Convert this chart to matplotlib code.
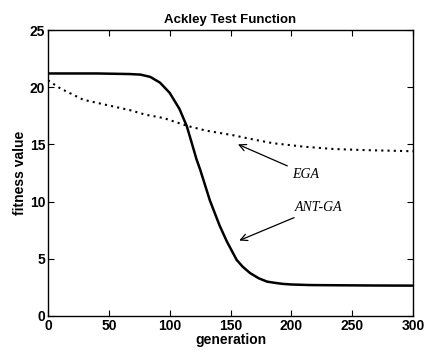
import numpy as np
import matplotlib
matplotlib.use("Agg")
import matplotlib.pyplot as plt

# values
ant_gen = [0, 40, 67, 76, 84, 92, 100, 108, 114, 119, 122, 125, 133, 141, 147, 150, 155, 160, 166, 173, 180, 186, 193, 200, 215, 240, 270, 300]
ant_fit = [21.2, 21.2, 21.15, 21.1, 20.9, 20.4, 19.5, 18.1, 16.6, 14.8, 13.7, 12.8, 10.1, 7.9, 6.5, 5.9, 4.9, 4.3, 3.75, 3.3, 3.0, 2.9, 2.8, 2.75, 2.7, 2.68, 2.66, 2.65]

ega_gen = [0, 10, 29, 50, 67, 80, 95, 115, 130, 152, 170, 185, 210, 234, 260, 280, 300]
ega_fit = [20.6, 19.9, 18.9, 18.4, 18.0, 17.6, 17.3, 16.6, 16.2, 15.8, 15.4, 15.1, 14.8, 14.6, 14.5, 14.45, 14.4]

xticks = [0, 50, 100, 150, 200, 250, 300]
yticks = [0, 5, 10, 15, 20, 25]

plt.rcParams['font.family'] = ['Liberation Sans', 'DejaVu Sans']

fig = plt.figure(figsize=(4.25, 3.53), dpi=100)
ax = fig.add_axes([0.113, 0.105, 0.859, 0.81])

ax.plot(ant_gen, ant_fit, color='black', lw=1.8, solid_joinstyle='round')
ax.plot(ega_gen, ega_fit, color='black', lw=1.5, linestyle=(0, (1, 2)))

ax.set_xlim(0, 300)
ax.set_ylim(0, 25)
ax.set_xticks(xticks)
ax.set_yticks(yticks)
ax.tick_params(direction='in', top=True, right=True, length=4, labelsize=10, pad=2)
for lab in ax.get_xticklabels() + ax.get_yticklabels():
    lab.set_fontweight('bold')
for s in ax.spines.values():
    s.set_linewidth(1.0)

ax.set_title('Ackley Test Function', fontsize=9.5, fontweight='bold', pad=5)
ax.set_xlabel('generation', fontsize=10, fontweight='bold', labelpad=0)
ax.set_ylabel('fitness value', fontsize=10, fontweight='bold', labelpad=2)

arrow = dict(arrowstyle='->', color='black', lw=0.9, mutation_scale=12)
ax.annotate('EGA', xy=(154, 15.1), xytext=(201, 12.4), family='Liberation Serif',
            style='italic', fontsize=10, ha='left', va='center', arrowprops=arrow)
ax.annotate('ANT-GA', xy=(155, 6.5), xytext=(203, 9.5), family='Liberation Serif',
            style='italic', fontsize=10, ha='left', va='center', arrowprops=arrow)

fig.savefig('out.png', dpi=100)
